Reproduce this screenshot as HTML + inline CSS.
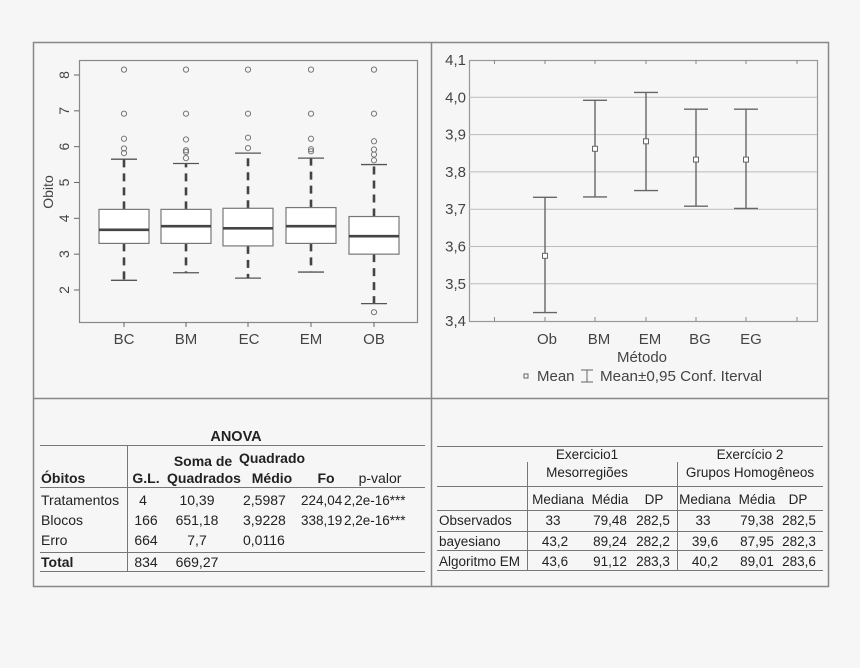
<!DOCTYPE html>
<html><head><meta charset="utf-8"><style>
html,body{margin:0;padding:0;background:#f6f6f6;}
svg{display:block;font-family:"Liberation Sans",Arial,sans-serif;}
</style></head><body>
<svg id="s" width="860" height="668" viewBox="0 0 860 668" xmlns="http://www.w3.org/2000/svg">
<rect x="0" y="0" width="860" height="668" fill="#f6f6f6"/>
<rect x="33.5" y="42.5" width="795" height="544" fill="#f6f6f6" stroke="#888" stroke-width="1.5"/>
<line x1="431.5" y1="42" x2="431.5" y2="586" stroke="#888" stroke-width="1.5"/>
<line x1="33" y1="398.5" x2="828" y2="398.5" stroke="#888" stroke-width="1.5"/>
<!-- left plot -->
<rect x="79.5" y="60.5" width="338" height="262" fill="none" stroke="#888" stroke-width="1.2"/>
<g id="left"></g>
<text x="53" y="192" font-size="14" fill="#444" transform="rotate(-90 53 192)" text-anchor="middle">Obito</text>
<g font-size="15" fill="#444" text-anchor="middle">
<text x="124" y="344">BC</text><text x="186" y="344">BM</text><text x="249" y="344">EC</text><text x="311" y="344">EM</text><text x="374" y="344">OB</text>
</g>
<!-- right plot -->
<rect x="469.5" y="60.5" width="348" height="261" fill="none" stroke="#999" stroke-width="1.2"/>
<g id="right"></g>
<g font-size="15" fill="#444" text-anchor="middle">
<text x="547" y="344">Ob</text><text x="599" y="344">BM</text><text x="650" y="344">EM</text><text x="700" y="344">BG</text><text x="751" y="344">EG</text>
<text x="642" y="362">Método</text>
</g>
<rect x="524" y="374" width="4" height="4" fill="none" stroke="#666"/>
<text x="537" y="381" font-size="15" fill="#444">Mean</text>
<path d="M581 370h12M587 370v12M581 382h12" stroke="#666" fill="none"/>
<text x="600" y="381" font-size="15" fill="#444" textLength="162" lengthAdjust="spacingAndGlyphs">Mean±0,95 Conf. Iterval</text>
<!-- ANOVA -->
<g font-size="14" fill="#222">
<text x="236" y="441" text-anchor="middle" font-weight="bold" font-size="14.5">ANOVA</text>
<line x1="40" y1="445.5" x2="425" y2="445.5" stroke="#777"/>
<line x1="127.5" y1="446" x2="127.5" y2="572" stroke="#777"/>
<text x="203" y="466" text-anchor="middle" font-weight="bold">Soma de</text>
<text x="272" y="463" text-anchor="middle" font-weight="bold">Quadrado</text>
<text x="41" y="483" font-weight="bold">Óbitos</text>
<text x="146" y="483" text-anchor="middle" font-weight="bold">G.L.</text>
<text x="204" y="483" text-anchor="middle" font-weight="bold">Quadrados</text>
<text x="272" y="483" text-anchor="middle" font-weight="bold">Médio</text>
<text x="326" y="483" text-anchor="middle" font-weight="bold">Fo</text>
<text x="380" y="483" text-anchor="middle">p-valor</text>
<line x1="40" y1="487.5" x2="425" y2="487.5" stroke="#777"/>
<text x="41" y="505">Tratamentos</text><text x="143" y="505" text-anchor="middle">4</text><text x="197" y="505" text-anchor="middle">10,39</text><text x="243" y="505">2,5987</text><text x="301" y="505" font-size="13.5">224,04</text><text x="344" y="505" font-size="13.5">2,2e-16***</text>
<text x="41" y="525">Blocos</text><text x="146" y="525" text-anchor="middle">166</text><text x="197" y="525" text-anchor="middle">651,18</text><text x="243" y="525">3,9228</text><text x="301" y="525" font-size="13.5">338,19</text><text x="344" y="525" font-size="13.5">2,2e-16***</text>
<text x="41" y="545">Erro</text><text x="146" y="545" text-anchor="middle">664</text><text x="197" y="545" text-anchor="middle">7,7</text><text x="243" y="545">0,0116</text>
<line x1="40" y1="552.5" x2="425" y2="552.5" stroke="#777"/>
<text x="41" y="567" font-weight="bold">Total</text><text x="146" y="567" text-anchor="middle">834</text><text x="197" y="567" text-anchor="middle">669,27</text>
<line x1="40" y1="571.5" x2="425" y2="571.5" stroke="#777"/>
</g>
<!-- right table -->
<g font-size="13.5" fill="#222">
<line x1="437" y1="446.5" x2="823" y2="446.5" stroke="#777"/>
<line x1="527.5" y1="462" x2="527.5" y2="570" stroke="#777"/>
<line x1="677.5" y1="462" x2="677.5" y2="570" stroke="#777"/>
<text x="587" y="459" text-anchor="middle">Exercicio1</text>
<text x="587" y="477" text-anchor="middle">Mesorregiões</text>
<text x="750" y="459" text-anchor="middle">Exercício 2</text>
<text x="750" y="477" text-anchor="middle">Grupos Homogêneos</text>
<line x1="437" y1="486.5" x2="823" y2="486.5" stroke="#777"/>
<text x="558" y="504" text-anchor="middle">Mediana</text><text x="610" y="504" text-anchor="middle">Média</text><text x="654" y="504" text-anchor="middle">DP</text>
<text x="705" y="504" text-anchor="middle">Mediana</text><text x="757" y="504" text-anchor="middle">Média</text><text x="798" y="504" text-anchor="middle">DP</text>
<line x1="437" y1="510.5" x2="823" y2="510.5" stroke="#777"/>
<text x="439" y="525">Observados</text><text x="553" y="525" text-anchor="middle">33</text><text x="610" y="525" text-anchor="middle">79,48</text><text x="653" y="525" text-anchor="middle">282,5</text><text x="703" y="525" text-anchor="middle">33</text><text x="757" y="525" text-anchor="middle">79,38</text><text x="799" y="525" text-anchor="middle">282,5</text>
<line x1="437" y1="531.5" x2="823" y2="531.5" stroke="#777"/>
<text x="439" y="546">bayesiano</text><text x="555" y="546" text-anchor="middle">43,2</text><text x="610" y="546" text-anchor="middle">89,24</text><text x="653" y="546" text-anchor="middle">282,2</text><text x="705" y="546" text-anchor="middle">39,6</text><text x="757" y="546" text-anchor="middle">87,95</text><text x="799" y="546" text-anchor="middle">282,3</text>
<line x1="437" y1="550.5" x2="823" y2="550.5" stroke="#777"/>
<text x="439" y="566">Algoritmo EM</text><text x="555" y="566" text-anchor="middle">43,6</text><text x="610" y="566" text-anchor="middle">91,12</text><text x="653" y="566" text-anchor="middle">283,3</text><text x="705" y="566" text-anchor="middle">40,2</text><text x="757" y="566" text-anchor="middle">89,01</text><text x="799" y="566" text-anchor="middle">283,6</text>
<line x1="437" y1="570.5" x2="823" y2="570.5" stroke="#777"/>
</g>
</svg>
<script>
var NS="http://www.w3.org/2000/svg";
function el(p,t,a,txt){var e=document.createElementNS(NS,t);for(var k in a)e.setAttribute(k,a[k]);if(txt!=null)e.textContent=txt;p.appendChild(e);return e;}
var L=document.getElementById('left');
function yl(v){return 75+(8-v)*35.83;}
for(var v=2;v<=8;v++){var y=yl(v);el(L,'line',{x1:74,y1:y,x2:79,y2:y,stroke:'#666'});
el(L,'text',{x:0,y:0,'font-size':14,fill:'#444','text-anchor':'middle',transform:'translate(69 '+y+') rotate(-90)'},String(v));}
var B=[[124,3.3,4.25,3.68,2.27,5.65,[5.82,5.95,6.22,6.92,8.15]],
[186,3.3,4.25,3.78,2.48,5.53,[5.68,5.85,5.9,6.2,6.92,8.15]],
[248,3.23,4.28,3.72,2.33,5.82,[5.96,6.25,6.92,8.15]],
[311,3.3,4.3,3.78,2.5,5.68,[5.87,5.93,6.22,6.92,8.15]],
[374,3.0,4.05,3.5,1.62,5.5,[1.38,5.62,5.78,5.92,6.15,6.92,8.15]]];
B.forEach(function(b){var x=b[0];
el(L,'line',{x1:x,y1:322,x2:x,y2:327,stroke:'#666'});
el(L,'line',{x1:x,y1:yl(b[2]),x2:x,y2:yl(b[5]),stroke:'#444','stroke-width':2.6,'stroke-dasharray':'8,6'});
el(L,'line',{x1:x,y1:yl(b[1]),x2:x,y2:yl(b[4]),stroke:'#444','stroke-width':2.6,'stroke-dasharray':'8,6'});
el(L,'line',{x1:x-13,y1:yl(b[5]),x2:x+13,y2:yl(b[5]),stroke:'#555','stroke-width':1.3});
el(L,'line',{x1:x-13,y1:yl(b[4]),x2:x+13,y2:yl(b[4]),stroke:'#555','stroke-width':1.3});
el(L,'rect',{x:x-25,y:yl(b[2]),width:50,height:yl(b[1])-yl(b[2]),fill:'#fff',stroke:'#777','stroke-width':1.2});
el(L,'line',{x1:x-25,y1:yl(b[3]),x2:x+25,y2:yl(b[3]),stroke:'#444','stroke-width':2.6});
b[6].forEach(function(o){el(L,'circle',{cx:x,cy:yl(o),r:2.6,fill:'none',stroke:'#777','stroke-width':1});});
});
var R=document.getElementById('right');
function yr(v){return 60+(4.1-v)*373;}
for(var i=0;i<=7;i++){var v=3.4+i*0.1,y=yr(v);
if(i>0&&i<7)el(R,'line',{x1:469,y1:y,x2:817,y2:y,stroke:'#bbb'});
el(R,'text',{x:466,y:y+5,'font-size':15,fill:'#444','text-anchor':'end'},v.toFixed(1).replace('.',','));}
[494.5,545,595,646,696,746,797].forEach(function(x){el(R,'line',{x1:x,y1:60,x2:x,y2:64,stroke:'#888'});el(R,'line',{x1:x,y1:321,x2:x,y2:317,stroke:'#888'});});
[[545,3.575,3.423,3.732],[595,3.862,3.733,3.992],[646,3.882,3.75,4.013],[696,3.833,3.708,3.968],[746,3.833,3.702,3.968]].forEach(function(d){var x=d[0];
el(R,'line',{x1:x,y1:yr(d[3]),x2:x,y2:yr(d[2]),stroke:'#666','stroke-width':1.4});
el(R,'line',{x1:x-12,y1:yr(d[3]),x2:x+12,y2:yr(d[3]),stroke:'#666','stroke-width':1.4});
el(R,'line',{x1:x-12,y1:yr(d[2]),x2:x+12,y2:yr(d[2]),stroke:'#666','stroke-width':1.4});
el(R,'rect',{x:x-2.5,y:yr(d[1])-2.5,width:5,height:5,fill:'#fff',stroke:'#666'});});
</script>
</body></html>
